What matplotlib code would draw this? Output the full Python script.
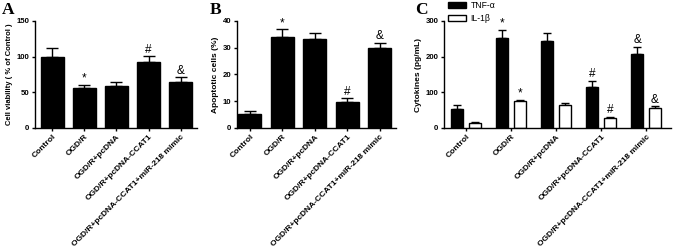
import matplotlib
matplotlib.use("Agg")
import matplotlib.pyplot as plt
import numpy as np
from matplotlib.patches import Patch

plt.rcParams['font.family'] = ['Liberation Sans', 'DejaVu Sans']
plt.rcParams['font.weight'] = 'bold'

groups = ["Control", "OGD/R", "OGD/R+pcDNA", "OGD/R+pcDNA-CCAT1",
          "OGD/R+pcDNA-CCAT1+miR-218 mimic"]

viability = [100, 55.5, 58.3, 93, 65]
viability_err = [11.5, 5, 6, 7.5, 6.5]
viability_marks = ["", "*", "", "#", "&"]

apoptosis = [5.4, 34.2, 33.4, 9.7, 29.9]
apoptosis_err = [1.0, 2.7, 2.3, 1.5, 2.0]
apoptosis_marks = ["", "*", "", "#", "&"]

tnf = [53, 252, 243, 115, 207]
tnf_err = [12, 24, 23, 18, 21]
tnf_marks = ["", "*", "", "#", "&"]
il1b = [13, 75, 65.5, 28, 56]
il1b_err = [3, 3.5, 5, 4, 5]
il1b_marks = ["", "*", "", "#", "&"]

W, H = 673, 247
fig = plt.figure(figsize=(W / 100, H / 100), dpi=100)

def ax_rect(left_px, right_px, top_px=21, bottom_px=128):
    return [left_px / W, 1 - bottom_px / H, (right_px - left_px) / W, (bottom_px - top_px) / H]

axA = fig.add_axes(ax_rect(35, 197))
axB = fig.add_axes(ax_rect(237, 396))
axC = fig.add_axes(ax_rect(444, 671))

tick_fs = 5.6
lab_fs = 6.0

def style(ax, ylim, yticks, ylabel, ylabel_fs, letter, letter_dx):
    ax.set_ylim(*ylim)
    ax.set_yticks(yticks)
    for s in ['top', 'right']:
        ax.spines[s].set_visible(False)
    for s in ['left', 'bottom']:
        ax.spines[s].set_linewidth(1.0)
    ax.tick_params(axis='both', width=1.0, length=2.5, labelsize=tick_fs, pad=1.5)
    ax.set_xticks(np.arange(len(groups)))
    ax.set_xticklabels(groups, rotation=45, ha='right', rotation_mode='anchor',
                       fontsize=lab_fs, fontweight='bold')
    ax.set_ylabel(ylabel, fontsize=ylabel_fs, fontweight='bold', labelpad=2.5)
    ax.text(letter_dx, 1.175, letter, transform=ax.transAxes, fontsize=12.5,
            fontweight='bold', family=['Liberation Serif', 'DejaVu Serif'],
            ha='left', va='top')

def bars_with_err(ax, x, vals, errs, marks, width, face, cap, mark_fs=8.5):
    ax.bar(x, vals, width=width, color=face, edgecolor='black', linewidth=1.0, zorder=2)
    ax.errorbar(x, vals, yerr=[np.zeros(len(vals)), errs], fmt='none', ecolor='black',
                elinewidth=1.0, capsize=cap, capthick=1.0, zorder=1)
    ytop = ax.get_ylim()[1]
    for xi, v, e, m in zip(x, vals, errs, marks):
        if m:
            ax.text(xi, v + e + ytop * 0.002, m, ha='center', va='bottom',
                    fontsize=mark_fs, fontweight='normal')

x = np.arange(len(groups))

axA.set_ylim(0, 150)
bars_with_err(axA, x, viability, viability_err, viability_marks, 0.71, 'black', 4.5)
axA.set_xlim(-0.53, 4.5)
style(axA, (0, 150), [0, 50, 100, 150], "Cell viability ( % of Control )", 5.5, "A", -0.205)

axB.set_ylim(0, 40)
bars_with_err(axB, x, apoptosis, apoptosis_err, apoptosis_marks, 0.71, 'black', 4.5)
axB.set_xlim(-0.4, 4.5)
style(axB, (0, 40), [0, 10, 20, 30, 40], "Apoptotic cells (%)", 6.0, "B", -0.17)

bw = 0.27
axC.set_ylim(0, 300)
bars_with_err(axC, x - 0.2, tnf, tnf_err, tnf_marks, bw, 'black', 3.0)
bars_with_err(axC, x + 0.19, il1b, il1b_err, il1b_marks, bw, 'white', 3.0)
axC.set_xlim(-0.49, 4.55)
style(axC, (0, 300), [0, 100, 200, 300], "Cytokines (pg/mL)", 6.0, "C", -0.128)

handles = [Patch(facecolor='black', edgecolor='black', linewidth=1.0),
           Patch(facecolor='white', edgecolor='black', linewidth=1.0)]
fig.legend(handles, ["TNF-α", "IL-1β"], loc='upper left',
           bbox_to_anchor=(447 / W, 1.0), frameon=False,
           handlelength=2.0, handleheight=0.75, handletextpad=0.6,
           labelspacing=0.45, borderpad=0.15, borderaxespad=0,
           prop={'weight': 'normal', 'size': 6.2})

fig.savefig("out.png", dpi=100)
